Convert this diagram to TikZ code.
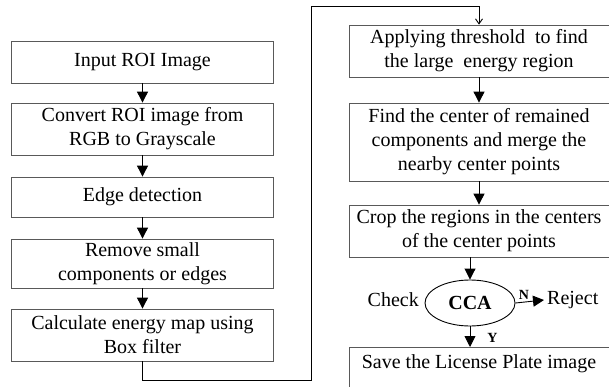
\documentclass[tikz,border=0pt]{standalone}
\usepackage{fontspec}
\setmainfont{Liberation Serif}
\usetikzlibrary{shapes.geometric,arrows.meta}
\begin{document}
\begin{tikzpicture}[x=1pt,y=-1pt,
  box/.style={draw=black!65,line width=0.8pt,rectangle,inner sep=0pt,align=center,
    font=\fontsize{20}{24}\selectfont},
  lbox/.style={box,minimum width=262pt},
  rbox/.style={box,minimum width=260pt},
  flow/.style={line width=0.9pt,-{Triangle[length=11pt,width=11pt]}},
  thin arrow/.style={line width=0.9pt,-{Straight Barb[length=5pt,width=7pt]}},
  lbl/.style={font=\fontsize{20}{24}\selectfont,inner sep=0pt},
  yn/.style={font=\fontsize{14}{16}\selectfont\bfseries,inner sep=0pt}]
\clip (0,0) rectangle (609,387);
\fill[white] (0,0) rectangle (609,387);
% left column
\node[lbox,minimum height=42pt] (b1) at (142.5,62) {Input ROI Image};
\node[lbox,minimum height=52pt] (b2) at (142.5,129) {Convert ROI image from\\RGB to Grayscale};
\node[lbox,minimum height=40pt] (b3) at (142.5,197) {Edge detection};
\node[lbox,minimum height=49pt] (b4) at (142.5,263.5) {Remove small\\components or edges};
\node[lbox,minimum height=52pt] (b5) at (142.5,335) {Calculate energy map using\\Box filter};
% right column
\node[rbox,minimum height=52pt] (r1) at (479,51) {Applying threshold\ \ to find\\the large\ \ energy region};
\node[rbox,minimum height=78pt] (r2) at (479,142) {Find the center of remained\\components and merge the\\nearby center points};
\node[rbox,minimum height=52pt] (r3) at (479,231) {Crop the regions in the centers\\of the center points};
\node[ellipse,draw=black,line width=0.9pt,minimum width=90pt,minimum height=46pt,inner sep=0pt,
  font=\fontsize{20}{24}\selectfont\bfseries] (cca) at (470,303) {CCA};
\node[box,minimum width=260pt,minimum height=50pt,anchor=north] (save) at (479,347) {};
\node[lbl] (savetxt) at (479,364) {Save the License Plate image};
\node[lbl,anchor=east] (check) at (419,300) {Check};
\node[lbl,anchor=west] (reject) at (547,300) {Reject};
\coordinate (c1) at (311,380);
\coordinate (c2) at (311,6);
% arrows
\draw[flow] (b1) -- (b2);
\draw[flow] (b2) -- (b3);
\draw[flow] (b3) -- (b4);
\draw[flow] (b4) -- (b5);
\draw[thin arrow] (b5.south) |- (c1) -- (c2) -| (r1.north);
\draw[flow] (r1) -- (r2);
\draw[flow] (r2) -- (r3);
\draw[flow] (r3.south -| cca.north) -- (cca.north);
\draw[flow] (cca.south) -- (save.north -| cca.south) node[yn,pos=0.55,right=17pt] {Y};
\draw[flow] (cca.east) -- ([xshift=-3pt]reject.west) node[yn,pos=0.3,above=2pt] {N};
\end{tikzpicture}
\end{document}
